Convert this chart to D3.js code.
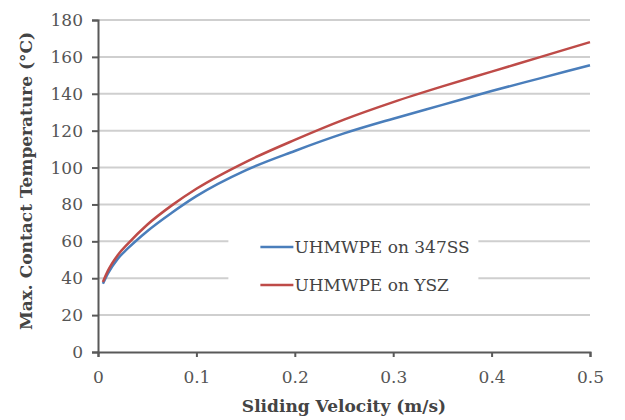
<!DOCTYPE html>
<html>
<head>
<meta charset="utf-8">
<script src="https://cdn.jsdelivr.net/npm/d3@7"></script>
<style>
  body { margin: 0; background: #fff; }
  svg text { font-family: "DejaVu Serif", "Liberation Serif", serif; }
</style>
</head>
<body>
<div id="chart"></div>
<script>
// Chart data
var velocity = [0.005, 0.01, 0.02, 0.03, 0.05, 0.075, 0.1, 0.15, 0.2, 0.25, 0.3, 0.35, 0.4, 0.45, 0.5];
var tempSS = [37, 42.5, 50.5, 56, 65.5, 75.5, 84.5, 98.5, 109, 118.5, 126.5, 134, 141.5, 148.5, 155.5];
var tempYSZ = [38, 44, 52.5, 58.5, 69, 79.5, 88.5, 103, 115, 126, 135.5, 144, 152, 160, 168];
var seriesNames = ["UHMWPE on 347SS", "UHMWPE on YSZ"];
var xTicks = [0, 0.1, 0.2, 0.3, 0.4, 0.5];
var yTicks = [0, 20, 40, 60, 80, 100, 120, 140, 160, 180];

var COLORS = ["#4a7ebb", "#be4b48"],
    AXIS_COLOR = "#595959",
    GRID_COLOR = "#cfcfcf";

var width = 625, height = 420,
    margin = {top: 20, right: 35, bottom: 68, left: 98},
    innerW = width - margin.left - margin.right,
    innerH = height - margin.top - margin.bottom;

var svg = d3.select("#chart").append("svg")
    .attr("width", width)
    .attr("height", height);

var g = svg.append("g")
    .attr("transform", "translate(" + margin.left + "," + margin.top + ")");

var x = d3.scaleLinear().domain([0, 0.5]).range([0, innerW]);
var y = d3.scaleLinear().domain([0, 180]).range([innerH, 0]);

// Gridlines
g.append("g")
  .selectAll("line")
  .data(yTicks.slice(1))
  .enter().append("line")
    .attr("x1", 0)
    .attr("x2", innerW)
    .attr("y1", function(d) { return y(d); })
    .attr("y2", function(d) { return y(d); })
    .attr("stroke", GRID_COLOR)
    .attr("stroke-width", 2);

// Y axis
var yAxis = g.append("g")
  .call(d3.axisLeft(y).tickValues(yTicks).tickSize(6).tickPadding(9).tickFormat(d3.format("d")));
yAxis.select(".domain").attr("stroke", AXIS_COLOR).attr("stroke-width", 2);
yAxis.selectAll(".tick line").attr("stroke", AXIS_COLOR).attr("stroke-width", 2);
yAxis.selectAll(".tick text")
  .attr("fill", "#555")
  .style("font-size", "17px");

// X axis
var xAxis = g.append("g")
  .attr("transform", "translate(0," + innerH + ")")
  .call(d3.axisBottom(x).tickValues(xTicks).tickSize(5).tickPadding(14)
    .tickFormat(function(d) { return d === 0 ? "0" : d3.format(".1f")(d); }));
xAxis.select(".domain").attr("stroke", AXIS_COLOR).attr("stroke-width", 2);
xAxis.selectAll(".tick line").attr("stroke", AXIS_COLOR).attr("stroke-width", 2);
xAxis.selectAll(".tick text")
  .attr("fill", "#555")
  .style("font-size", "17px");

// Axis titles
g.append("text")
  .attr("x", innerW / 2)
  .attr("y", innerH + 60)
  .attr("text-anchor", "middle")
  .attr("fill", "#444")
  .style("font-size", "17px")
  .style("font-weight", "bold")
  .text("Sliding Velocity (m/s)");

g.append("text")
  .attr("transform", "translate(" + (-66) + "," + (innerH / 2 - 5) + ") rotate(-90)")
  .attr("text-anchor", "middle")
  .attr("fill", "#444")
  .style("font-size", "17px")
  .style("font-weight", "bold")
  .text("Max. Contact Temperature (\u00B0C)");

// Legend (white box hides gridlines)
var legend = g.append("g")
  .attr("transform", "translate(" + (x(0.1325)) + "," + (y(70)) + ")");
legend.append("rect")
  .attr("width", 250)
  .attr("height", 80)
  .attr("fill", "#fff");

[0, 1].forEach(function(i) {
  var ly = 24 + i * 38;
  legend.append("line")
    .attr("x1", 32).attr("x2", 65)
    .attr("y1", ly).attr("y2", ly)
    .attr("stroke", COLORS[i])
    .attr("stroke-width", 2.5);
  legend.append("text")
    .attr("x", 66)
    .attr("y", ly + 6)
    .attr("fill", "#444")
    .style("font-size", "17px")
    .text(seriesNames[i]);
});

// Lines
var line = d3.line()
  .x(function(d) { return x(d[0]); })
  .y(function(d) { return y(d[1]); })
  .curve(d3.curveMonotoneX);

[tempSS, tempYSZ].forEach(function(vals, i) {
  g.append("path")
    .datum(d3.zip(velocity, vals))
    .attr("fill", "none")
    .attr("stroke", COLORS[i])
    .attr("stroke-width", 2.5)
    .attr("d", line);
});
</script>
</body>
</html>
